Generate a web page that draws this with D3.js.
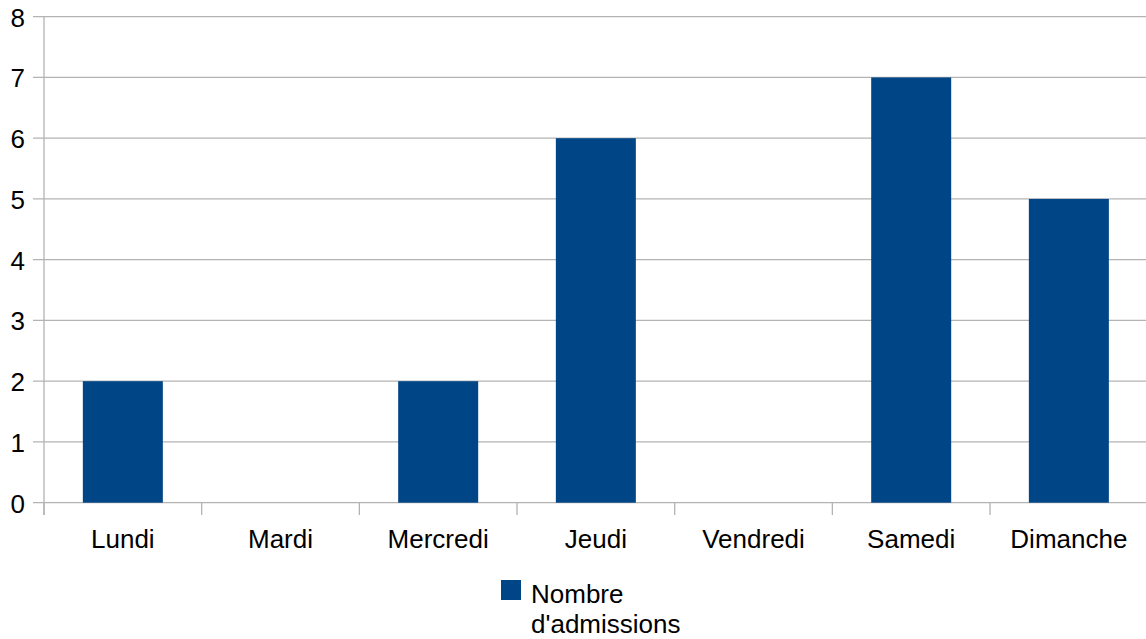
<!DOCTYPE html>
<html><head><meta charset="utf-8">
<script src="https://cdn.jsdelivr.net/npm/d3@7"></script>
<style>body{margin:0;background:#fff}svg{display:block;font-family:"Liberation Sans",Arial,sans-serif}</style>
</head><body><svg id="c" width="1146" height="639"></svg>
<script>
const categories = ["Lundi","Mardi","Mercredi","Jeudi","Vendredi","Samedi","Dimanche"];
const values = [2,0,2,6,0,7,5];
const yTicks = [0,1,2,3,4,5,6,7,8];
const seriesName = ["Nombre","d'admissions"];

const svg = d3.select("#c");
const pLeft = 44, pRight = 1147.7, pTop = 16.7, pBottom = 502.7;
const step = (pRight-pLeft)/categories.length;
const p = 1 - 80/step;
const x = d3.scaleBand().domain(categories).range([pLeft,pRight]).paddingInner(p).paddingOuter(p/2);
const y = d3.scaleLinear().domain([0,8]).range([pBottom,pTop]);
const fs = 26;

// gridlines
svg.append("g").selectAll("line").data(yTicks).join("line")
  .attr("x1",33).attr("x2",1146).attr("y1",d=>y(d)).attr("y2",d=>y(d))
  .attr("stroke","#b3b3b3").attr("stroke-width",1.3);
// y axis line
svg.append("line").attr("x1",pLeft).attr("x2",pLeft).attr("y1",pTop).attr("y2",515)
  .attr("stroke","#b3b3b3").attr("stroke-width",1.3);
// x ticks at band boundaries
const bounds = d3.range(categories.length+1).map(i=>pLeft+i*step);
svg.append("g").selectAll("line").data(bounds).join("line")
  .attr("x1",d=>d).attr("x2",d=>d).attr("y1",pBottom).attr("y2",515)
  .attr("stroke","#b3b3b3").attr("stroke-width",1.3);
// y labels
svg.append("g").selectAll("text").data(yTicks).join("text")
  .attr("x",25).attr("y",d=>y(d)+10).attr("text-anchor","end")
  .attr("font-size",fs).attr("fill","#000").text(d=>d);
// bars
svg.append("g").selectAll("rect").data(values).join("rect")
  .attr("x",(d,i)=>x(categories[i])).attr("width",x.bandwidth())
  .attr("y",d=>y(d)).attr("height",d=>y(0)-y(d)).attr("fill","#004586");
// x labels
svg.append("g").selectAll("text").data(categories).join("text")
  .attr("x",d=>x(d)+x.bandwidth()/2).attr("y",548).attr("text-anchor","middle")
  .attr("font-size",fs).attr("fill","#000").text(d=>d);
// legend
svg.append("rect").attr("x",501).attr("y",580).attr("width",20).attr("height",20).attr("fill","#004586");
svg.append("g").selectAll("text").data(seriesName).join("text")
  .attr("x",531).attr("y",(d,i)=>602.5+i*30).attr("font-size",fs).attr("fill","#000").text(d=>d);
</script></body></html>
